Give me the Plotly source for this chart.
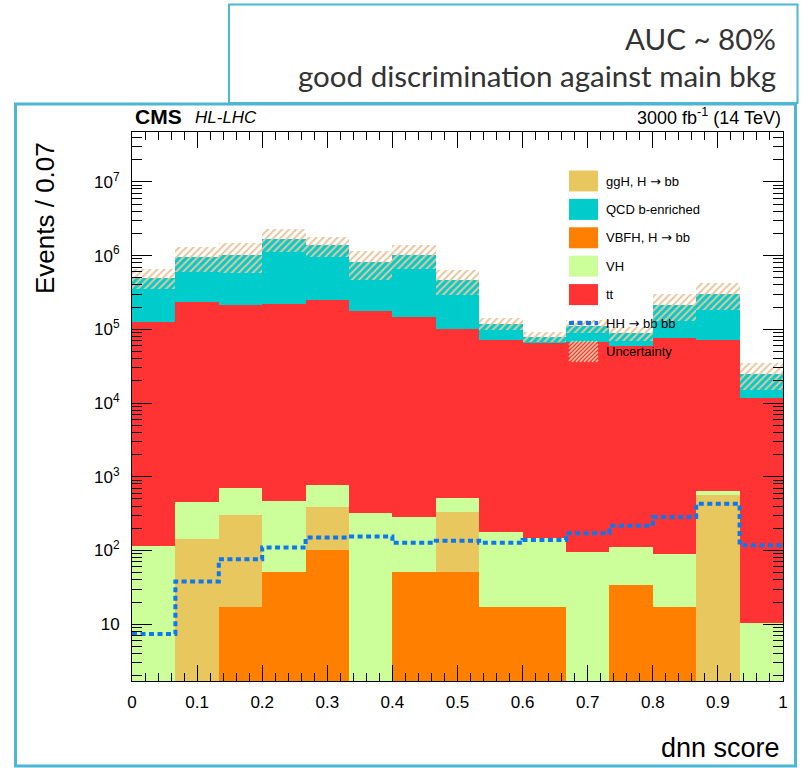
import numpy as np
import plotly.graph_objects as go

# ---------------- data: 15 bins of the dnn score ----------------
bin_edges = np.linspace(0.0, 1.0, 16)
bin_centers = 0.5 * (bin_edges[:-1] + bin_edges[1:])
bin_width = bin_edges[1] - bin_edges[0]

# per-process yields (events / bin), stacked bottom -> top in this order
vbfh = [0, 0, 17, 51, 102, 0, 51, 51, 17, 17, 0, 34, 17, 0, 0]
ggh = [0, 143, 286, 0, 286, 0, 0, 286, 0, 0, 0, 0, 0, 572, 0]
vh = [116, 318, 400, 421, 391, 327, 233, 175, 160, 132, 96, 76, 74, 66, 10.3]
tt = [1.26e5, 2.35e5, 2.10e5, 2.20e5, 2.50e5, 1.79e5, 1.47e5, 9.9e4,
      7.1e4, 6.6e4, 6.65e4, 6.0e4, 7.5e4, 7.1e4, 1.17e4]
qcd = [3.72e5, 7.15e5, 8.2e5, 1.48e6, 1.12e6, 6.3e5, 8.8e5, 3.6e5,
       4.8e4, 1.3e4, 4.35e4, 2.9e4, 1.41e5, 2.34e5, 1.33e4]
# relative uncertainty on the total background
rel_unc = [0.30, 0.36, 0.44, 0.34, 0.30, 0.42, 0.36, 0.37,
           0.19, 0.16, 0.20, 0.22, 0.40, 0.40, 0.40]
# HH -> bbbb signal (not stacked)
hh = [7.4, 38, 76, 110, 150, 155, 127, 136, 127, 139, 172, 216, 284, 430, 118]

x_ticks = [0, 0.1, 0.2, 0.3, 0.4, 0.5, 0.6, 0.7, 0.8, 0.9, 1.0]
y_ticks = [1e1, 1e2, 1e3, 1e4, 1e5, 1e6, 1e7]
y_ticktext = ["10", "10<sup>2</sup>", "10<sup>3</sup>", "10<sup>4</sup>",
              "10<sup>5</sup>", "10<sup>6</sup>", "10<sup>7</sup>"]

ARROW = "<span style='font-family:DejaVu Sans'>\u2192</span>"

stack = [
    ("VBFH, H \u2192 bb", vbfh, "#FF8000"),
    ("ggH, H \u2192 bb", ggh, "#E8C75E"),
    ("VH", vh, "#CCFF99"),
    ("tt", tt, "#FF3333"),
    ("QCD b-enriched", qcd, "#00CCCC"),
]
cumulative = np.cumsum([np.array(v, dtype=float) for _, v, _ in stack], axis=0)
total = cumulative[-1]
unc = np.array(rel_unc)

# ---------------- canvas geometry (pixels) ----------------
W, H = 807, 768
PX0, PX1 = 132, 783   # plot area left / right
PY0, PY1 = 132, 681   # plot area top / bottom


def px(x):
    return (x - PX0) / (PX1 - PX0)


def py(y):
    return (PY1 - y) / (PY1 - PY0)


FONT = "Liberation Sans, Arial, sans-serif"
BOX = "#4DB7D3"
HATCH = "#E9C49C"
HH_BLUE = "#0A78F0"
HH_DASH = "5px,3.5px"

fig = go.Figure()

# stacked histogram: each cumulative level drawn from the bottom, largest first
for (name, _, color), level in reversed(list(zip(stack, cumulative))):
    fig.add_trace(go.Bar(
        x=bin_centers, y=level, width=bin_width, name=name,
        marker=dict(color=color, line=dict(width=0)), showlegend=False,
    ))

# uncertainty band on the total background
fig.add_trace(go.Bar(
    x=bin_centers, y=2 * unc * total, base=total * (1 - unc), width=bin_width,
    name="Uncertainty",
    marker=dict(color="rgba(0,0,0,0)", line=dict(width=0),
                pattern=dict(shape="/", fgcolor=HATCH, bgcolor="rgba(0,0,0,0)",
                             size=5, solidity=0.4, fillmode="replace")),
    showlegend=False,
))

# signal as a step line
fig.add_trace(go.Scatter(
    x=bin_edges, y=hh + [hh[-1]], mode="lines", name="HH \u2192 bb bb",
    line=dict(shape="hv", color=HH_BLUE, width=4, dash=HH_DASH),
    showlegend=False,
))

shapes = []
annotations = []

# outer frames
shapes.append(dict(type="rect", xref="paper", yref="paper",
                   x0=px(15.5), x1=px(795.5), y0=py(766), y1=py(104),
                   line=dict(color=BOX, width=3), fillcolor="rgba(0,0,0,0)", layer="above"))
shapes.append(dict(type="rect", xref="paper", yref="paper",
                   x0=px(229), x1=px(797.5), y0=py(103), y1=py(4.5),
                   line=dict(color=BOX, width=2), fillcolor="rgba(0,0,0,0)", layer="above"))

# legend
legend_rows = [
    (f"ggH, H {ARROW} bb", "#E8C75E", "box"),
    ("QCD b-enriched", "#00CCCC", "box"),
    (f"VBFH, H {ARROW} bb", "#FF8000", "box"),
    ("VH", "#CCFF99", "box"),
    ("tt", "#FF3333", "box"),
    (f"HH {ARROW} bb bb", HH_BLUE, "line"),
    ("Uncertainty", HATCH, "hatch"),
]
LX0, LX1, LTEXT = 569, 598, 604
row_y0, row_dy = 181, 28.4
for i, (label, color, kind) in enumerate(legend_rows):
    yc = row_y0 + i * row_dy
    if kind == "box":
        shapes.append(dict(type="rect", xref="paper", yref="paper",
                           x0=px(LX0), x1=px(LX1), y0=py(yc + 10.5), y1=py(yc - 10.5),
                           fillcolor=color, line=dict(width=0), layer="above"))
    elif kind == "line":
        shapes.append(dict(type="line", xref="paper", yref="paper",
                           x0=px(LX0), x1=px(LX1), y0=py(yc), y1=py(yc),
                           line=dict(color=color, width=4, dash=HH_DASH), layer="above"))
    else:
        top, bot = yc - 10.5, yc + 10.5
        segs = []
        c = LX0 + top
        while c < LX1 + bot:
            xa = max(LX0, c - bot)
            xb = min(LX1, c - top)
            if xb > xa:
                segs.append(f"M{px(xa):.5f},{py(c - xa):.5f} L{px(xb):.5f},{py(c - xb):.5f}")
            c += 4
        shapes.append(dict(type="path", xref="paper", yref="paper", path=" ".join(segs),
                           line=dict(color=color, width=1.5), layer="above"))
    annotations.append(dict(text=label, x=px(LTEXT), y=py(yc), xref="paper", yref="paper",
                            xanchor="left", yanchor="middle", showarrow=False,
                            font=dict(family=FONT, size=13, color="black")))

# header texts
annotations += [
    dict(text="<b>CMS</b>", x=px(133), y=py(117), xanchor="left", yanchor="middle",
         font=dict(family=FONT, size=21, color="black")),
    dict(text="<i>HL-LHC</i>", x=px(193), y=py(118), xanchor="left", yanchor="middle",
         font=dict(family=FONT, size=17, color="black")),
    dict(text="3000 fb<sup>-1</sup> (14 TeV)", x=px(783), y=py(117), xanchor="right",
         yanchor="middle", font=dict(family=FONT, size=18, color="black")),
    dict(text="Events / 0.07", x=px(45), y=py(140), xanchor="center", yanchor="top",
         textangle=-90, font=dict(family=FONT, size=26, color="black")),
    dict(text="dnn score", x=px(782), y=py(748), xanchor="right", yanchor="middle",
         font=dict(family=FONT, size=27, color="black")),
    dict(text="AUC ~ 80%", x=px(778), y=py(38), xanchor="right", yanchor="middle",
         font=dict(family="Lato, Open Sans, sans-serif", size=29.5, color="#333333")),
    dict(text="good discrimination against main bkg", x=px(778), y=py(75),
         xanchor="right", yanchor="middle",
         font=dict(family="Lato, Open Sans, sans-serif", size=29.5, color="#333333")),
]
for a in annotations:
    a.setdefault("xref", "paper")
    a.setdefault("yref", "paper")
    a.setdefault("showarrow", False)

minor_y = [k * 10 ** n for n in range(0, 8) for k in range(2, 10)]

fig.update_layout(
    width=W, height=H,
    margin=dict(l=PX0, r=W - PX1, t=PY0, b=H - PY1, pad=0),
    paper_bgcolor="white", plot_bgcolor="white",
    barmode="overlay", bargap=0, showlegend=False,
    shapes=shapes, annotations=annotations,
    xaxis=dict(
        range=[0, 1], tickmode="array", tickvals=x_ticks,
        ticktext=[f"{v:g}" for v in x_ticks],
        ticks="inside", ticklen=16, tickwidth=1, tickcolor="black",
        minor=dict(ticks="inside", ticklen=8, dtick=0.02, tick0=0, tickcolor="black", showgrid=False),
        showline=True, linecolor="black", linewidth=1, mirror="ticks",
        showgrid=False, zeroline=False, ticklabelstandoff=6,
        tickfont=dict(family=FONT, size=17, color="black"),
    ),
    yaxis=dict(
        type="log", range=[0.2303, 7.676],
        tickmode="array", tickvals=y_ticks, ticktext=y_ticktext,
        ticks="inside", ticklen=20, tickwidth=1, tickcolor="black",
        minor=dict(tickmode="array", tickvals=minor_y, ticks="inside", ticklen=10,
                   tickcolor="black", showgrid=False),
        showline=True, linecolor="black", linewidth=1, mirror="ticks",
        showgrid=False, zeroline=False, ticklabelstandoff=8,
        tickfont=dict(family=FONT, size=17, color="black"),
    ),
)

fig.write_html("out.html")
